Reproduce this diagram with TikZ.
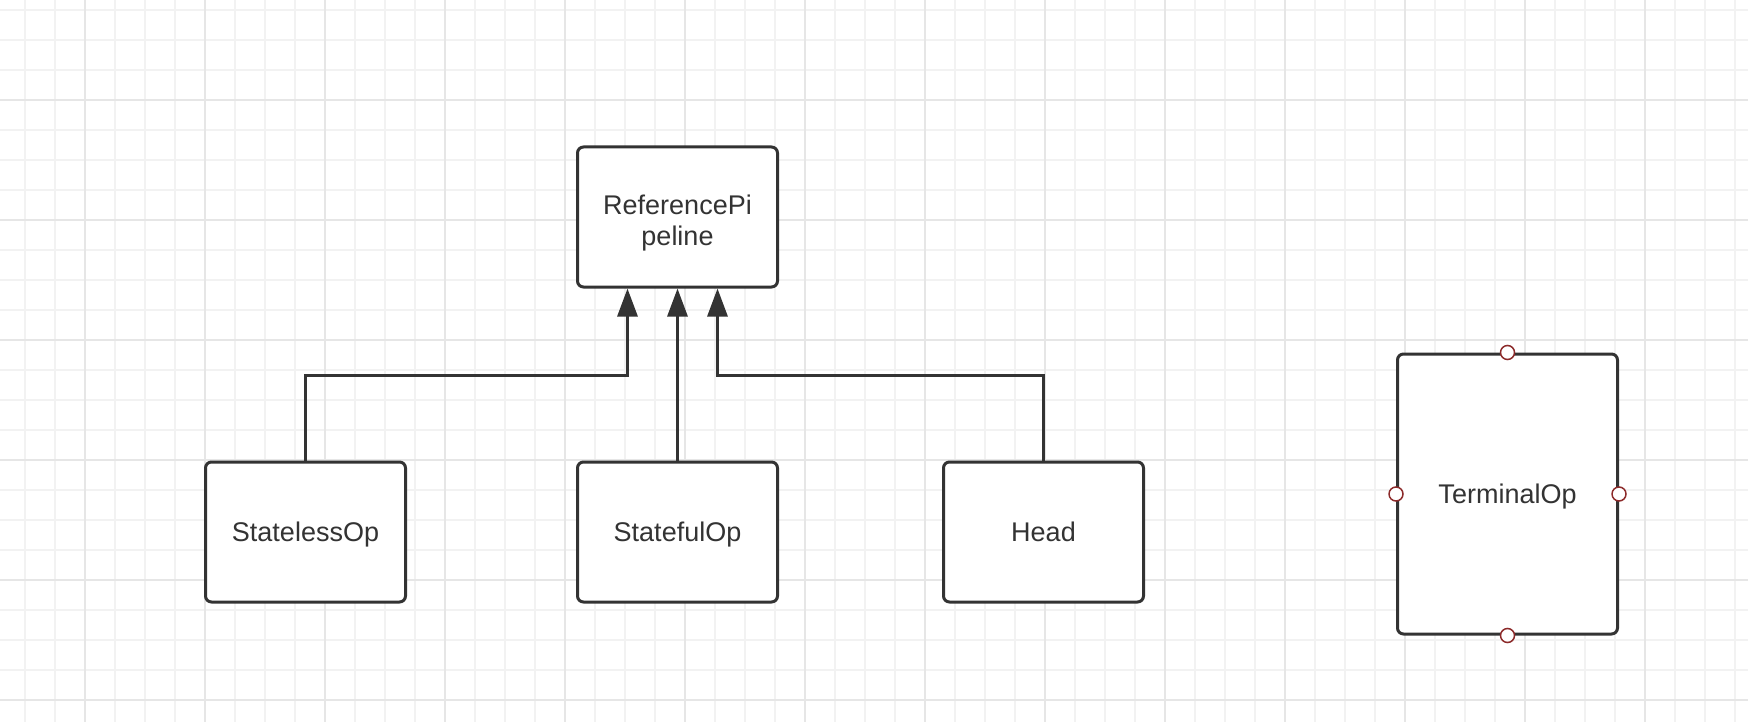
\documentclass[tikz,border=0pt]{standalone}
\usepackage{fontspec}
\setmainfont{Liberation Sans}
\usetikzlibrary{arrows.meta}

\definecolor{boxline}{HTML}{333333}
\definecolor{gridminor}{HTML}{F2F2F2}
\definecolor{gridmajor}{HTML}{E6E6E6}
\definecolor{portred}{HTML}{8C2A2A}

% line box of a text line, so that the letters sit in the middle
\newcommand{\linestrut}{\rule[-6pt]{0pt}{31pt}}

\tikzset{
  opbox/.style={draw=boxline, line width=3pt, rounded corners=6pt, fill=white,
    minimum width=200pt, minimum height=140pt, inner sep=0pt, text=boxline,
    font=\fontsize{27}{31}\selectfont, align=center,
    execute at begin node=\linestrut},
  extends/.style={draw=boxline, line width=3pt, -{Triangle[width=20pt,length=28pt]}},
  port/.style={circle, draw=portred, line width=1.5pt, fill=white,
    minimum size=14pt, inner sep=0pt}
}

\begin{document}
\begin{tikzpicture}[x=1pt,y=-1pt]

  % Page size
  \useasboundingbox (0,0) rectangle (1748,722);
  \fill[white] (0,0) rectangle (1748,722);

  % Background grid
  \foreach \x in {25,55,...,1745} \draw[gridminor, line width=1.5pt] (\x,0) -- (\x,722);
  \foreach \y in {10,40,...,720} \draw[gridminor, line width=1.5pt] (0,\y) -- (1748,\y);
  \foreach \x in {85,205,...,1645} \draw[gridmajor, line width=1.5pt] (\x,0) -- (\x,722);
  \foreach \y in {100,220,...,700} \draw[gridmajor, line width=1.5pt] (0,\y) -- (1748,\y);

  % The parent class (two lines, first one a bit taller)
  \node[opbox] (pipeline) at (677.5,217) {\rule{0pt}{31pt}ReferencePi\\peline};

  % The subclasses
  \node[opbox] (stateless) at (305.5,532) {StatelessOp};
  \node[opbox] (stateful) at (677.5,532) {StatefulOp};
  \node[opbox] (head) at (1043.5,532) {Head};

  % Stand-alone terminal op
  \node[opbox, minimum width=220pt, minimum height=280pt] (terminal) at (1507.5,494) {TerminalOp};

  % Arrow ends on the parent and the bus line
  \coordinate (inL) at ([xshift=-50pt]pipeline.south);
  \coordinate (inR) at ([xshift=40pt]pipeline.south);
  \coordinate (bus) at (0,375);

  % Inheritance arrows
  \draw[extends] (stateless.north) -- (stateless.north |- bus) -| (inL);
  \draw[extends] (stateful.north) -- (pipeline.south);
  \draw[extends] (head.north) -- (head.north |- bus) -| (inR);

  % Connection points of TerminalOp
  \foreach \side in {north,south,east,west}
    \node[port] (port-\side) at (terminal.\side) {};

\end{tikzpicture}
\end{document}
